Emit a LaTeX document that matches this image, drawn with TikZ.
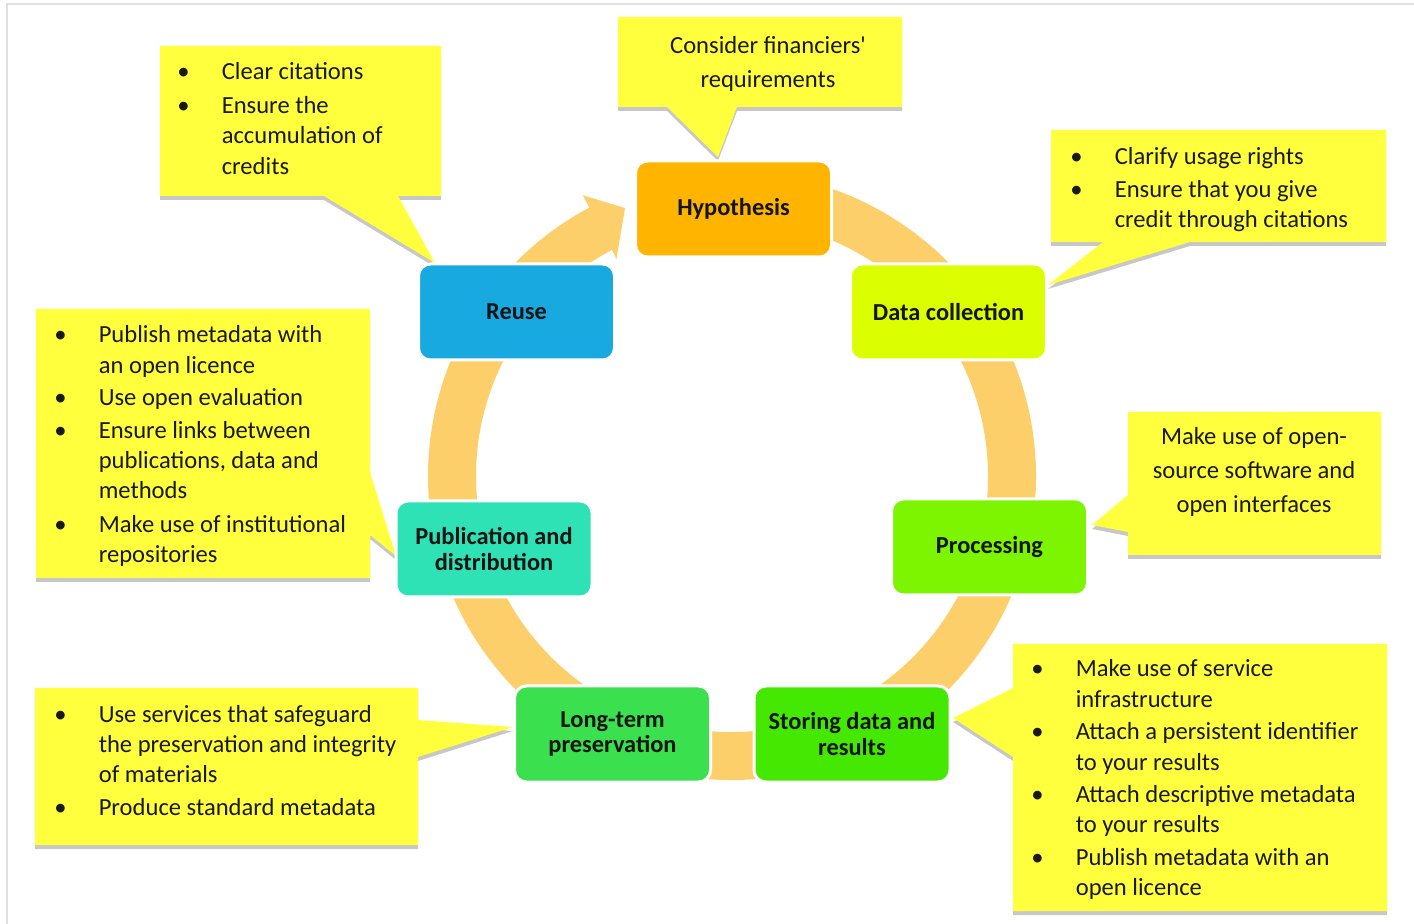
\documentclass[tikz,border=0pt]{standalone}
\usepackage{fontspec}
\setmainfont{Carlito}[Ligatures=TeXOff]
\usepackage{array}
\usetikzlibrary{calc}
\definecolor{ringC}{HTML}{FCCF6A}
\definecolor{callY}{HTML}{FFFF3D}
\definecolor{hypC}{HTML}{FFB400}
\definecolor{reuC}{HTML}{17A9DF}
\definecolor{datC}{HTML}{DCFF00}
\definecolor{proC}{HTML}{7DF500}
\definecolor{stoC}{HTML}{45E800}
\definecolor{lonC}{HTML}{3AE04E}
\definecolor{pubC}{HTML}{2EE2B6}
\newcommand{\bu}{\textbullet}
\tikzset{
  stage/.style={rounded corners=6pt, draw=white, line width=1.5pt,
    minimum width=98pt, minimum height=48pt, inner sep=0pt,
    font=\fontsize{12.2}{12.6}\selectfont\bfseries, text=black!92, align=center},
  note/.style={anchor=base west, inner sep=0pt, text=black!90,
    font=\fontsize{12.3}{15.2}\selectfont},
  cnote/.style={anchor=center, inner sep=0pt, align=center, text=black!90,
    font=\fontsize{12.3}{17}\selectfont},
  callout/.style={fill=callY, preaction={fill=black!22, transform canvas={yshift=-2pt}}},
  band/.style={draw=ringC, line width=24pt},
}
\begin{document}
\begin{tikzpicture}[x=0.5pt,y=-0.5pt]
\useasboundingbox (0,0) rectangle (1414,924);
\draw[black!12, line width=0.6pt] (7,924) -- (7,4) -- (1414,4);

% ring
\coordinate (c) at (732,476);
\draw[band] (c) ++(262:280) arc[start angle=262, end angle=575, radius=280];
\draw[band] (c) ++(215:280) arc[start angle=215, end angle=242.5, radius=280];
\fill[ringC] ($(c)+(242:318)$) -- (625,208) -- ($(c)+(242:246)$) -- cycle;

% callouts
\fill[callout] (160,46) -- (441,46) -- (441,196) -- (398,196) -- (435,263) -- (324,196) -- (160,196) -- cycle;
\fill[callout] (618,17) -- (902,17) -- (902,107) -- (737,107) -- (718,157) -- (667,107) -- (618,107) -- cycle;
\fill[callout] (1051,130) -- (1386,130) -- (1386,242) -- (1190,242) -- (1048,285) -- (1103,242) -- (1051,242) -- cycle;
\fill[callout] (1128,412) -- (1381,412) -- (1381,555) -- (1128,555) -- (1128,532) -- (1092,525) -- (1128,495) -- cycle;
\fill[callout] (1013,644) -- (1387,644) -- (1387,911) -- (1013,911) -- (1013,757) -- (953,718) -- (1013,688) -- cycle;
\fill[callout] (35,688) -- (418,688) -- (418,720) -- (513,727) -- (418,757) -- (418,845) -- (35,845) -- cycle;
\fill[callout] (36,309) -- (370,309) -- (370,472) -- (396,556) -- (370,535) -- (370,578) -- (36,578) -- cycle;

% callout texts
\node[note] (nreuse) at (177,80) {\begin{tabular}[t]{@{}p{22.2pt}@{}l@{}}
\bu & Clear citations\\[1.5pt]
\bu & Ensure the\\
 & accumulation of\\
 & credits
\end{tabular}};
\node[cnote] (nhyp) at (768,63.5) {Consider financiers'\\requirements};
\node[note] (ndat) at (1070,165) {\begin{tabular}[t]{@{}p{22.2pt}@{}l@{}}
\bu & Clarify usage rights\\[1pt]
\bu & Ensure that you give\\
 & credit through citations
\end{tabular}};
\node[cnote] (nproc) at (1254,471.5) {Make use of open-\\source software and\\open interfaces};
\node[note] (nsto) at (1031,677) {\begin{tabular}[t]{@{}p{22.2pt}@{}l@{}}
\bu & Make use of service\\
 & infrastructure\\[1pt]
\bu & Attach a persistent identifier\\
 & to your results\\[1pt]
\bu & Attach descriptive metadata\\
 & to your results\\[1pt]
\bu & Publish metadata with an\\
 & open licence
\end{tabular}};
\node[note] (nlong) at (54,722) {\begin{tabular}[t]{@{}p{22.2pt}@{}l@{}}
\bu & Use services that safeguard\\
 & the preservation and integrity\\
 & of materials\\[1pt]
\bu & Produce standard metadata
\end{tabular}};
\node[note] (npub) at (54,343) {\begin{tabular}[t]{@{}p{22.2pt}@{}l@{}}
\bu & Publish metadata with\\
 & an open licence\\[1pt]
\bu & Use open evaluation\\[1pt]
\bu & Ensure links between\\
 & publications, data and\\
 & methods\\[1.5pt]
\bu & Make use of institutional\\
 & repositories
\end{tabular}};

% stages
\node[stage, fill=hypC] (hyp) at (733.5,209) {Hypothesis};
\node[stage, fill=datC] (datc) at (948.5,312) {Data collection};
\node[stage, fill=proC] (proc) at (989.5,547) {Processing};
\node[stage, fill=stoC] (store) at (852,734) {Storing data and\\results};
\node[stage, fill=lonC] (longt) at (612.5,734) {Long-term\\preservation};
\node[stage, fill=pubC] (pub) at (494,549) {Publication and\\distribution};
\node[stage, fill=reuC] (reuse) at (516.5,312) {Reuse};
\end{tikzpicture}
\end{document}
